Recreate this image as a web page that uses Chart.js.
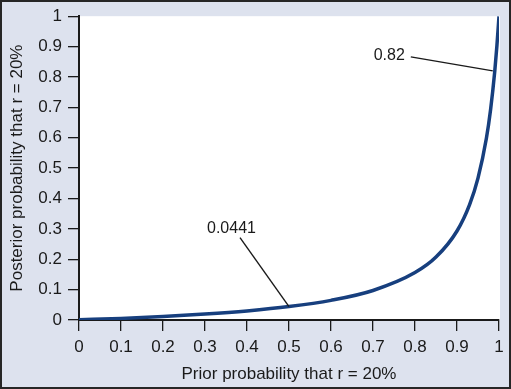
<!DOCTYPE html>
<html>
<head>
<meta charset="utf-8">
<script src="https://cdn.jsdelivr.net/npm/chart.js@4"></script>
<style>
  html, body { margin: 0; padding: 0; background: #dde2ee; }
  #wrap { width: 511px; height: 389px; }
</style>
</head>
<body>
<div id="wrap"><canvas id="bayesChart" width="511" height="389"></canvas></div>
<script>
// ---------- Data ----------
const priorValues = [0, 0.1, 0.2, 0.3, 0.4, 0.5, 0.6, 0.7, 0.8, 0.85, 0.9, 0.93, 0.95, 0.97, 0.98, 0.99, 0.995, 1];
const posteriorValues = [0.001, 0.0051, 0.0114, 0.0194, 0.0298, 0.0441, 0.0647, 0.0971, 0.156, 0.207, 0.293, 0.38, 0.467, 0.598, 0.693, 0.82, 0.902, 1];
const tickValues = [0, 0.1, 0.2, 0.3, 0.4, 0.5, 0.6, 0.7, 0.8, 0.9, 1];

// callouts: text + the point on the curve it points at
const calloutLabels = ["0.0441", "0.82"];
const calloutPoints = [[0.5, 0.0441], [0.99, 0.82]];

const FONT = "'Liberation Sans', Arial, Helvetica, sans-serif";
const INK = "#1a1a1a";

// ---------- Plugins ----------
const backdrop = {
  id: "backdrop",
  beforeDraw(chart) {
    const { ctx, chartArea: a } = chart;
    ctx.save();
    ctx.fillStyle = "#dde2ee";
    ctx.fillRect(0, 0, chart.width, chart.height);
    ctx.fillStyle = "#ffffff";
    ctx.fillRect(a.left, a.top, a.right - a.left + 1, a.bottom - a.top);
    ctx.restore();
  },
  afterDraw(chart) {
    const ctx = chart.ctx;
    ctx.save();
    ctx.strokeStyle = "#262626";
    ctx.lineWidth = 2;
    ctx.strokeRect(1, 1, chart.width - 2, chart.height - 2);
    ctx.restore();
  }
};

const callouts = {
  id: "callouts",
  afterDatasetsDraw(chart) {
    const { ctx, scales } = chart;
    const xs = scales.x, ys = scales.y;
    ctx.save();
    ctx.font = "16px " + FONT;
    ctx.fillStyle = INK;
    ctx.strokeStyle = INK;
    ctx.lineWidth = 1.4;

    // 0.0441 label above-left of its point
    let px = xs.getPixelForValue(calloutPoints[0][0]);
    let py = ys.getPixelForValue(calloutPoints[0][1]);
    ctx.textAlign = "left";
    ctx.textBaseline = "middle";
    ctx.fillText(calloutLabels[0], px - 82, py - 78);
    ctx.beginPath();
    ctx.moveTo(px - 49, py - 69);
    ctx.lineTo(px, py);
    ctx.stroke();

    // 0.82 label to the left of its point
    px = xs.getPixelForValue(calloutPoints[1][0]);
    py = ys.getPixelForValue(calloutPoints[1][1]);
    ctx.textAlign = "right";
    ctx.fillText(calloutLabels[1], px - 90, py - 15);
    ctx.beginPath();
    ctx.moveTo(px - 84, py - 14);
    ctx.lineTo(px - 2, py);
    ctx.stroke();
    ctx.restore();
  }
};

// ---------- Chart ----------
const ctx = document.getElementById("bayesChart").getContext("2d");

const bayesChart = new Chart(ctx, {
  type: "line",
  data: {
    datasets: [
      {
        data: priorValues.map((p, i) => ({ x: p, y: posteriorValues[i] })),
        borderColor: "#173f7e",
        borderWidth: 3.5,
        pointRadius: 0,
        cubicInterpolationMode: "monotone",
        fill: false,
      },
    ],
  },
  options: {
    responsive: false,
    animation: false,
    layout: { padding: { top: 16, right: 12, left: 0, bottom: 0 } },
    plugins: { legend: { display: false }, tooltip: { enabled: false } },
    scales: {
      x: {
        type: "linear",
        min: 0,
        max: 1,
        afterBuildTicks: (s) => { s.ticks = tickValues.map(v => ({ value: v })); },
        afterFit: (s) => { s.height = 69; },
        ticks: {
          color: INK,
          font: { family: FONT, size: 17 },
          padding: 6,
          maxRotation: 0,
          autoSkip: false,
          callback: (v) => String(Math.round(v * 10) / 10),
        },
        grid: { drawOnChartArea: false, tickLength: 11, color: INK, lineWidth: 1.3 },
        border: { color: INK, width: 2 },
        title: {
          display: true,
          text: "Prior probability that r = 20%",
          color: INK,
          font: { family: FONT, size: 17 },
          padding: { top: 4, bottom: 4 },
        },
      },
      y: {
        type: "linear",
        min: 0,
        max: 1,
        afterBuildTicks: (s) => { s.ticks = tickValues.map(v => ({ value: v })); },
        afterFit: (s) => { s.width = 79; },
        ticks: {
          color: INK,
          font: { family: FONT, size: 17 },
          padding: 6,
          autoSkip: false,
          callback: (v) => String(Math.round(v * 10) / 10),
        },
        grid: { drawOnChartArea: false, tickLength: 11, color: INK, lineWidth: 1.3 },
        border: { color: INK, width: 2 },
        title: {
          display: true,
          text: "Posterior probability that r = 20%",
          color: INK,
          font: { family: FONT, size: 17 },
          padding: { top: 7, bottom: 2 },
        },
      },
    },
  },
  plugins: [backdrop, callouts],
});
</script>
</body>
</html>
